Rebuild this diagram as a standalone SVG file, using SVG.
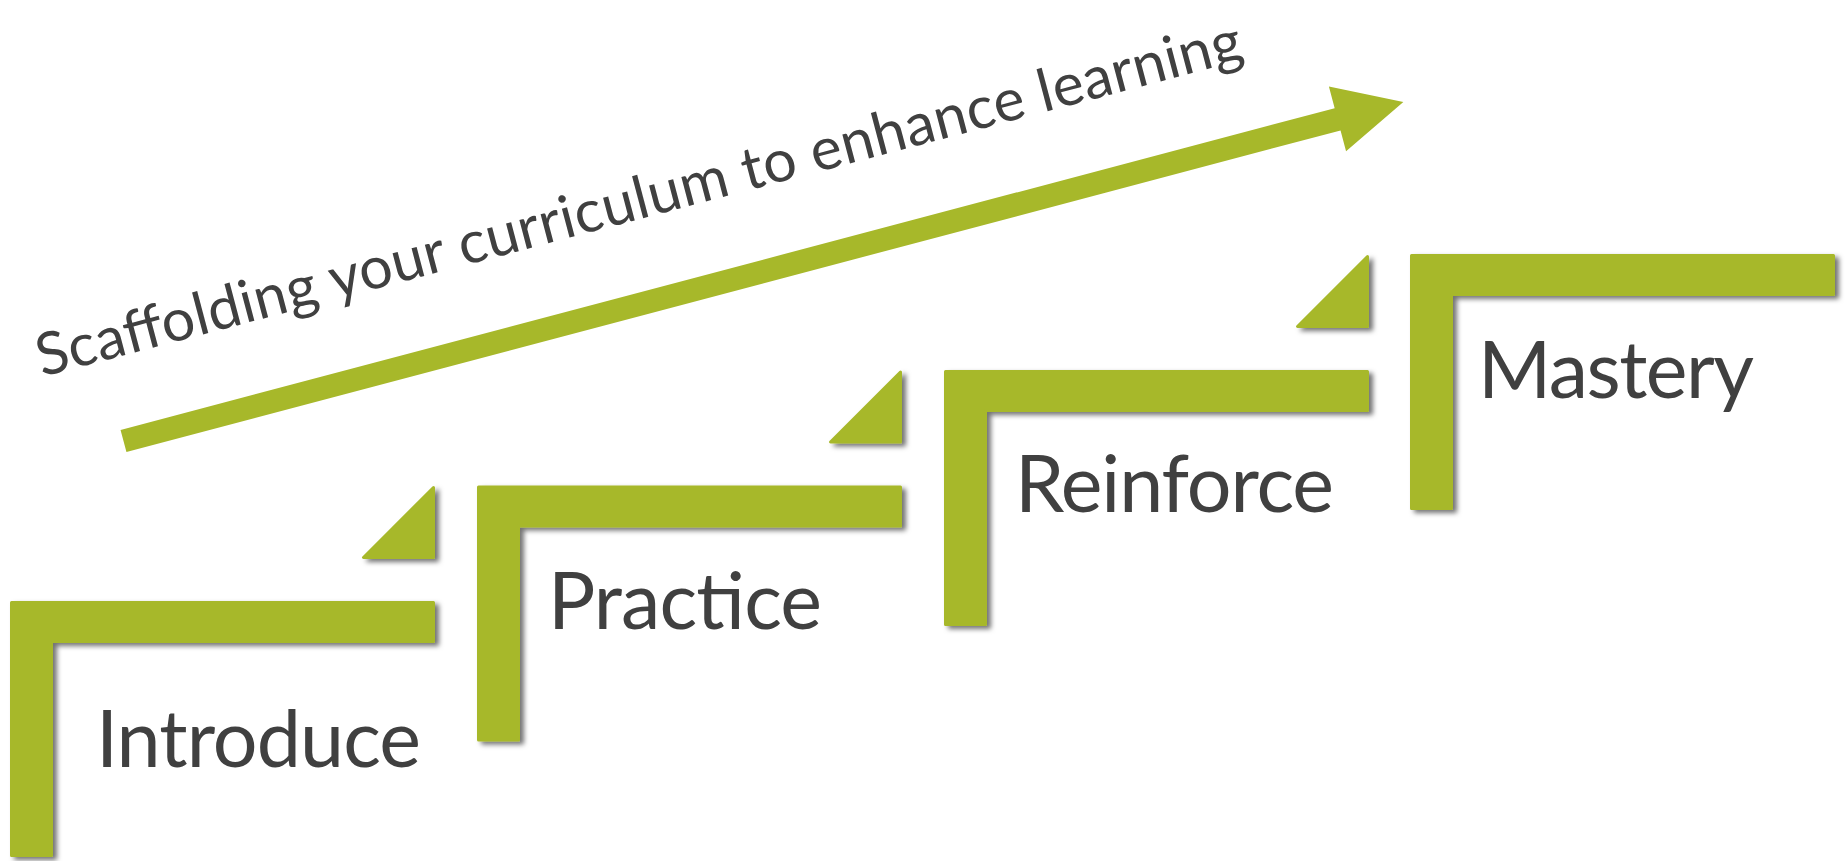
<svg xmlns="http://www.w3.org/2000/svg" width="1847" height="861" viewBox="0 0 1847 861">
  <style>
    .step { fill: #A7B82A; stroke: #A7B82A; stroke-width: 3; stroke-linejoin: round; filter: url(#shadow); }
    .label { font-family: Lato, "Liberation Sans", sans-serif; font-size: 79px; font-weight: 400; fill: #404040; }
    .title { font-family: Lato, "Liberation Sans", sans-serif; font-size: 59px; fill: #404040; }
    .arrow { fill: #A7B82A; }
  </style>
  <defs>
    <filter id="shadow" x="-10%" y="-10%" width="130%" height="130%">
      <feDropShadow dx="4" dy="3" stdDeviation="2.5" flood-color="#000" flood-opacity="0.55"/>
    </filter>
  </defs>

  <rect width="1847" height="861" fill="#FFFFFF"/>

  <!-- rising arrow and its caption -->
  <g id="connectors">
    <g transform="translate(123.5,441) rotate(-14.84)">
      <polygon class="arrow" points="0,-11.5 1256,-11.5 1256,-34 1324,0 1256,33 1256,11.5 0,11.5"/>
    </g>
  </g>
  <g id="title">
    <text class="title" transform="translate(42,377) rotate(-14.8)" textLength="1245">Scaffolding your curriculum to enhance learning</text>
  </g>

  <!-- step 1 -->
  <g id="introduce">
    <polygon class="step" points="363.5,557.5 433.5,557.5 433.5,487.5"/>
    <polygon class="step" points="11.5,602.5 433.5,602.5 433.5,641.5 51.5,641.5 51.5,855.5 11.5,855.5"/>
    <text class="label" x="96" y="767" textLength="325">Introduce</text>
  </g>

  <!-- step 2 -->
  <g id="practice">
    <polygon class="step" points="830.5,442 900.5,442 900.5,372"/>
    <polygon class="step" points="478.5,487 900.5,487 900.5,526 518.5,526 518.5,740 478.5,740"/>
    <text class="label" x="548" y="629" textLength="274">Practice</text>
  </g>

  <!-- step 3 -->
  <g id="reinforce">
    <polygon class="step" points="1297.5,326.5 1367.5,326.5 1367.5,256.5"/>
    <polygon class="step" points="945.5,371.5 1367.5,371.5 1367.5,410.5 985.5,410.5 985.5,624.5 945.5,624.5"/>
    <text class="label" x="1015" y="512" textLength="319">Reinforce</text>
  </g>

  <!-- step 4 -->
  <g id="mastery">
    <polygon class="step" points="1411.5,255.5 1833.5,255.5 1833.5,294.5 1451.5,294.5 1451.5,508.5 1411.5,508.5"/>
    <text class="label" x="1478" y="398" textLength="276">Mastery</text>
  </g>
</svg>
